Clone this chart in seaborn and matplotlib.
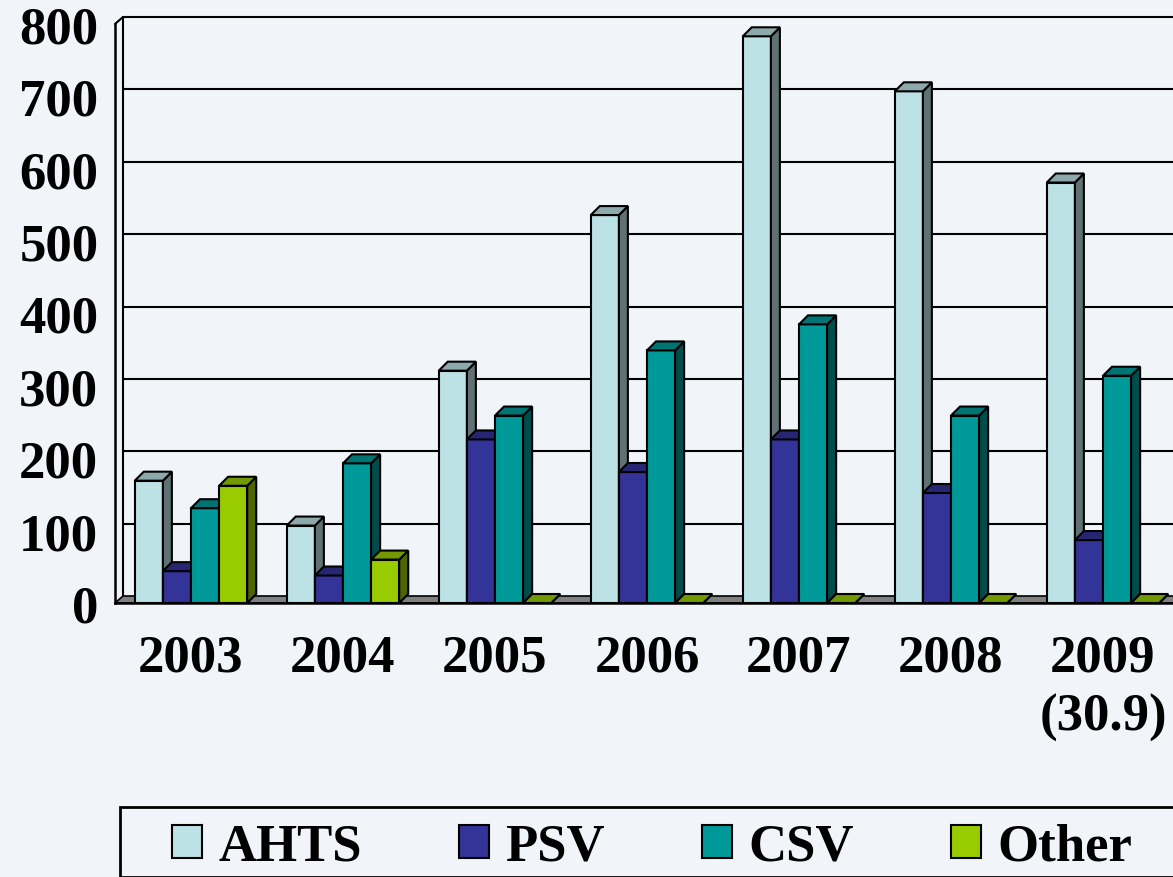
import numpy as np
import pandas as pd
import matplotlib
matplotlib.use("Agg")
import matplotlib.pyplot as plt
from matplotlib.patches import Polygon, Rectangle
import seaborn as sns

years = ["2003", "2004", "2005", "2006", "2007", "2008", "2009"]
year_labels = ["2003", "2004", "2005", "2006", "2007", "2008", "2009\n(30.9)"]
types = ["AHTS", "PSV", "CSV", "Other"]
ahts = [169, 107, 321, 536, 783, 707, 581]
psv = [44, 38, 226, 181, 226, 152, 87]
csv = [131, 193, 259, 349, 385, 259, 314]
other = [162, 60, 0, 0, 0, 0, 0]

front = {"AHTS": "#BDE2E6", "PSV": "#333399", "CSV": "#009999", "Other": "#99CC00"}
side = {"AHTS": "#5E7174", "PSV": "#1A1A4D", "CSV": "#004D4D", "Other": "#4D6600"}
top = {"AHTS": "#8EA9AC", "PSV": "#262673", "CSV": "#007373", "Other": "#739900"}

bg = "#F1F4F9"
df = pd.DataFrame({
    "year": years * 4,
    "type": np.repeat(types, len(years)),
    "value": ahts + psv + csv + other,
})

sns.set_style("white")
plt.rcParams["font.family"] = ["Liberation Serif", "DejaVu Serif"]
plt.rcParams["font.weight"] = "bold"
plt.rcParams["text.color"] = "black"
plt.rcParams["xtick.color"] = "black"
plt.rcParams["ytick.color"] = "black"

fig = plt.figure(figsize=(11.73, 8.78), dpi=100, facecolor=bg)
W, H = 1173, 878
px_x = 152.0          # pixels per category
ax = fig.add_axes([115 / W, (H - 604) / H, 7 * px_x / W, (604 - 25) / H])
ax.set_facecolor("none")
ax.set_xlim(-0.5, 6.5)
ax.set_ylim(0, 800)
px_y = (604 - 25) / 800.0

# depth offsets in data units
wdx, wdy = 8 / px_x, 7 / px_y
bdx, bdy = 9 / px_x, 9 / px_y

sns.barplot(data=df, x="year", y="value", hue="type", order=years, hue_order=types,
            palette=front, saturation=1, width=0.74, edgecolor="black", linewidth=1.5,
            legend=False, ax=ax, zorder=3)
bars = sorted([p for p in ax.patches if isinstance(p, Rectangle)], key=lambda p: p.get_x())

# back wall, gridlines and floor
for v in range(100, 900, 100):
    ax.plot([-0.5 + wdx, 6.5 + wdx], [v + wdy, v + wdy], color="black", lw=1.5,
            zorder=1, clip_on=False)
ax.plot([-0.5 + wdx, -0.5 + wdx], [wdy, 800 + wdy], color="black", lw=1.5,
        zorder=1, clip_on=False)
ax.plot([-0.5, -0.5 + wdx], [800, 800 + wdy], color="black", lw=1.5,
        zorder=1, clip_on=False)
ax.add_patch(Polygon([(-0.5, 0), (6.5, 0), (6.5 + wdx, wdy), (-0.5 + wdx, wdy)],
                     closed=True, facecolor="#808080", edgecolor="black", lw=1.2,
                     zorder=2, clip_on=False))

# 3d side and top faces
for k, b in enumerate(bars):
    name = types[k % 4]
    x0, x1, h = b.get_x(), b.get_x() + b.get_width(), b.get_height()
    z = 3 + k
    b.set_zorder(z)
    ax.add_patch(Polygon([(x1, 0), (x1 + bdx, bdy), (x1 + bdx, h + bdy), (x1, h)],
                         closed=True, facecolor=side[name], edgecolor="black",
                         lw=1.5, zorder=z + 0.1, clip_on=False))
    ax.add_patch(Polygon([(x0, h), (x0 + bdx, h + bdy), (x1 + bdx, h + bdy), (x1, h)],
                         closed=True, facecolor=top[name], edgecolor="black",
                         lw=1.5, zorder=z + 0.2, clip_on=False))

for s in ["top", "right"]:
    ax.spines[s].set_visible(False)
for s in ["left", "bottom"]:
    ax.spines[s].set_color("black")
    ax.spines[s].set_linewidth(1.8)
    ax.spines[s].set_zorder(50)

ax.set_yticks(range(0, 900, 100))
ax.set_yticklabels([str(v) for v in range(0, 900, 100)], fontsize=38, fontweight="bold")
ax.tick_params(axis="y", direction="out", length=8, width=1.5, color="black", pad=4)
ax.set_xticks(range(len(years)))
ax.set_xticklabels(year_labels, fontsize=38, fontweight="bold", linespacing=1.3)
ax.set_xticks(np.arange(-0.5, 7, 1), minor=True)
ax.tick_params(axis="x", which="major", length=0, pad=22)
ax.tick_params(axis="x", which="minor", direction="out", length=10, width=1.5, color="black")
ax.set_xlabel("")
ax.set_ylabel("")

# legend box
fig.patches.append(Rectangle((120 / W, 0), 1.0, (H - 808) / H, transform=fig.transFigure,
                             facecolor="none", edgecolor="black", lw=2, zorder=5))
handles = [Rectangle((0, 0), 1, 1, facecolor=front[t], edgecolor="black", lw=1.5) for t in types]
fig.legend(handles, types, loc="center left", bbox_to_anchor=(151 / W, (H - 848) / H),
           ncol=4, frameon=False, prop={"weight": "bold", "size": 38},
           handlelength=0.57, handleheight=0.57, handletextpad=0.3, columnspacing=1.85,
           borderaxespad=0)

fig.savefig("out.png", dpi=100, facecolor=bg)
